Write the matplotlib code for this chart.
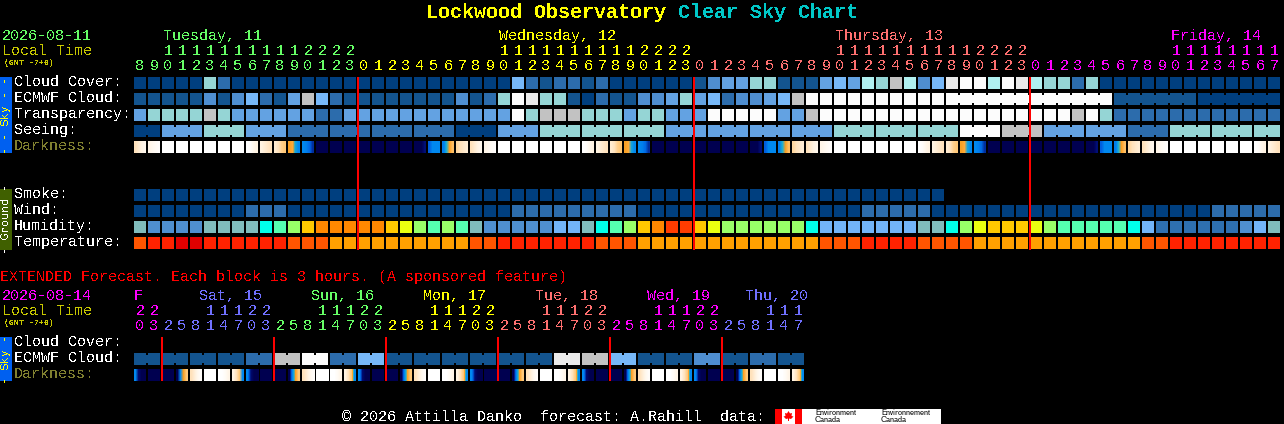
import matplotlib
matplotlib.use("Agg")
import matplotlib.pyplot as plt
from matplotlib.colors import LinearSegmentedColormap
from matplotlib.patches import Rectangle, Polygon
import numpy as np

plt.rcParams["text.hinting"] = "native"
plt.rcParams["text.hinting_factor"] = 1

W, H = 1284, 424
MONO = "Liberation Mono"

# ---------- data ----------
sky_colors = ["#003f7f", "#13548f", "#2c6cac", "#4f8ed0", "#63a2e2", "#77b8f8",
              "#95d5d5", "#b0f0f0", "#c2c2c2", "#eaeaea", "#fcfcfc"]
cloud_cover = [0,0,0,0,0,6,2,0,0,0,0,0,0,0,0,0, 0,0,0,0,0,0,0,0,0,0,0,5,2,1,2,2,1,2,0,0,0,0,0,0,
               1,3,4,4,6,6,1,1,1,4,5,4,7,6,8,7,3,5,9,10,10,7,10,9,7,6,6,2,6,
               0,0,0,0,0,0,0,0,0,0,0,0,0]
ecmwf_cloud = [1,1,1,1,1,3,1,3,5,2,1,4,8,5,2,1, 1,1,1,1,1,1,1,3,1,2,6,10,9,6,6,1,0,2,1,1,3,3,4,6,
               4,5,2,3,3,4,5,8,10,10,10,10,10,10,10,10,10,10,10,10,10,10,10,10,10,10,10,10,10,10,
               1,1,1,1,1,1,0,0,0,0,0,0]
ecmwf_runs = [1]*58 + [12, 6, 6]
transparency = [4,6,6,6,6,8,6,4,4,4,4,4,4,2,2,4, 4,4,4,4,4,4,4,4,4,4,4,10,6,8,8,8,6,6,6,4,6,6,4,4,
                4,10,10,10,10,10,4,4,8,10,10,10,10,10,10,10,10,10,10,10,10,10,10,10,10,10,10,8,10,6,
                2,2,2,2,2,2,2,2,2,2,2,2]
seeing = [0,0,4,4,4,6,6,6,4,4,4,2,2,2,2,2, 2,2,2,2,2,2,2,0,0,0,4,4,4,6,6,6,6,6,6,6,6,6,4,4,
          4,4,4,4,4,4,4,4,4,4,6,6,6,6,6,6,6,6,6,10,10,10,8,8,8,4,4,4,4,4,4,2,2,2,6,6,6,6,6,6,6,6]
seeing_runs = [2] + [3]*26 + [2]
smoke = [0]*58
wind = [0,0,0,0,0,0,0,0,2,2,2,0,0,0,0,0, 0,0,0,0,0,0,0,0,0,0,0,2,2,2,2,2,2,2,2,2,0,0,0,0,
        0,0,0,0,0,0,0,0,0,0,0,0,2,2,2,2,2,0,0,0,0,0,0,0,0,0,0,0,0,0,0,0,0,0,0,0,0,2,2,2,2,2]
humidity_colors = ["#2e70b0", "#4f8fd0", "#72b4f8", "#80bcbc", "#00ffea", "#55ffb0",
                   "#98ff68", "#eaff10", "#ffc800", "#ff8800", "#ff3c00"]
humidity = [3,1,1,1,1,3,3,3,3,4,5,6,8,9,9,9, 9,9,8,7,6,5,6,5,3,1,1,1,1,1,2,2,3,4,5,6,8,9,10,10,
            8,7,6,6,6,6,6,6,4,2,2,2,2,2,2,2,3,3,4,6,7,8,8,8,7,6,5,5,5,5,5,4,2,0,0,0,0,0,0,1,2,3]
temp_colors = ["#e00000", "#ff2200", "#ff5500", "#ffa000"]
temperature = [2,1,1,0,0,1,1,1,1,1,1,2,2,2,3,3, 3,3,3,3,3,3,3,3,2,2,1,1,1,1,1,1,1,2,2,2,3,3,3,3,
               3,3,3,3,3,3,3,3,3,2,2,2,1,1,1,1,2,2,2,2,3,3,3,3,3,3,3,3,3,3,3,3,2,2,1,1,1,1,1,1,1,1]
dark_stops = [(0, "#ffffff"), (.15, "#fff3e2"), (.3, "#ffe2bc"), (.42, "#ffc878"), (.5, "#ffa020"),
              (.56, "#20b0d0"), (.62, "#0088f0"), (.75, "#0060e0"), (.85, "#0030a0"), (.93, "#000a70"),
              (1, "#000050")]
dark_phases = {"W": (0, 0, 0, 0), "N": (1, 1, 1, 1),
               "a": (.3, .22, .15, .1), "b": (.12, .08, .05, .02), "c": (0, .03, .1, .15),
               "d": (.15, .2, .25, .3), "e": (.22, .3, .38, .42), "f": (.5, .48, .58, .62),
               "g": (.62, .65, .72, .85), "h": (1, 1, 1, .92), "i": (.75, .62, .62, .62),
               "j": (.65, .56, .5, .44), "k": (.35, .3, .25, .2),
               "A": (.62, .93, 1, 1), "B": (1, .62, .5, .42), "C": (.3, .2, .1, .03),
               "D": (0, 0, .05, .12), "E": (.15, .3, .42, .62)}
darkness = ("abWWWWWWcdefgNNNNNNNhijk" "abWWWWWWcdefgNNNNNNNhijk"
            "abWWWWWWcdefgNNNNNNNhijk" "abWWWWWWcd")
hours = [8,9,10,11,12,13,14,15,16,17,18,19,20,21,22,23] + list(range(24)) * 2 + list(range(18))
midnights = [16, 40, 64]

ext_ecmwf = [1,1,1,1,1,1,1,1,2,2,8,8,10,10,2,2,5,5,1,1,1,1,1,1,1,1,1,1,1,1,9,9,8,8,5,5,
             1,1,1,1,3,3,1,1,2,2,1,1]
ext_runs = [2]*24
ext_darkness = "ANNBCWDE" * 6
ext_hours = [20,23] + [2,5,8,11,14,17,20,23]*5 + [2,5,8,11,14,17]
ext_midnights = [2, 10, 18, 26, 34, 42]

main_days = [("Tuesday, 11", "#66ff66", 16), ("Wednesday, 12", "#ffff00", 24),
             ("Thursday, 13", "#ff7070", 24), ("Friday, 14", "#ff00ff", 18)]
ext_days = [("F", "#ff00ff", 2, 134), ("Sat, 15", "#7070ff", 8, 199), ("Sun, 16", "#66ff66", 8, 311),
            ("Mon, 17", "#ffff00", 8, 423), ("Tue, 18", "#ff7070", 8, 535),
            ("Wed, 19", "#ff00ff", 8, 647), ("Thu, 20", "#7070ff", 6, 745)]
main_day_x = [163, 499, 835, 1171]

# ---------- helpers ----------
fig = plt.figure(figsize=(W / 100, H / 100), dpi=100, facecolor="black")
bg = fig.add_axes([0, 0, 1, 1])
bg.set_xlim(0, W); bg.set_ylim(H, 0); bg.axis("off")


def txt(x, y, s, color="white", px=15, bold=False, ha="left", rot=0, family=MONO, aa=False, dy=1):
    return bg.text(x, y + dy, s, color=color, fontsize=px * .72, ha=ha, va="center", rotation=rot,
                   fontfamily=family, fontweight="bold" if bold else "normal", antialiased=aa,
                   rotation_mode="anchor" if rot == 0 else "default")


def panel(top, nrows, ncols=82):
    pad = 4 / 16
    ax = fig.add_axes([134 / W, 1 - (top + nrows * 16 - 4) / H, ncols * 14 / W, (nrows * 16 - 4) / H])
    ax.set_xlim(0, ncols); ax.set_ylim(nrows - pad, 0); ax.axis("off")
    ax.patch.set_alpha(0)
    return ax


CW, CH = 12 / 14, 12 / 16


def draw_row(ax, row, values, palette, runs=None):
    cols = np.arange(len(values))
    ax.bar(cols, CH, width=CW, bottom=row, align="edge",
           color=[palette[v] for v in values], linewidth=0, antialiased=False)
    if runs:
        start = 0
        for n in runs:
            for c in range(start, start + n - 1):
                ax.bar(c + CW, 8 / 16, width=1 - CW, bottom=row + 2 / 16, align="edge",
                       color=palette[values[c]], linewidth=0, antialiased=False)
            start += n


dark_cmap = LinearSegmentedColormap.from_list("dark", dark_stops)


def draw_dark(ax, row, codes):
    for c, code in enumerate(codes):
        ax.imshow([dark_phases[code]], extent=(c, c + CW, row + CH, row), cmap=dark_cmap, vmin=0, vmax=1,
                  aspect="auto", interpolation="bilinear", zorder=1)
    ax.set_xlim(0, len(codes))


# ---------- main sky panel ----------
ax1 = panel(77, 5)
draw_row(ax1, 0, cloud_cover, sky_colors)
draw_row(ax1, 1, ecmwf_cloud, sky_colors, ecmwf_runs)
draw_row(ax1, 2, transparency, sky_colors)
draw_row(ax1, 3, seeing, sky_colors, seeing_runs)
draw_dark(ax1, 4, darkness)
ax1.set_ylim(5 - 4 / 16, 0)

ax2 = panel(189, 4)
draw_row(ax2, 0, smoke, sky_colors)
draw_row(ax2, 1, wind, sky_colors)
draw_row(ax2, 2, humidity, humidity_colors)
draw_row(ax2, 3, temperature, temp_colors)
ax2.set_xlim(0, 82)

# midnight lines span both panels through a dedicated axes
axm = fig.add_axes([134 / W, 1 - 250 / H, 82 * 14 / W, (250 - 77) / H])
axm.set_xlim(0, 82); axm.set_ylim(1, 0); axm.axis("off"); axm.patch.set_alpha(0)
axm.vlines(midnights, 0, 1, color="#ff0000", linewidth=2 * .72, antialiased=False)

# ---------- extended panel ----------
ax3 = fig.add_axes([134 / W, 1 - 381 / H, 48 * 14 / W, (381 - 337) / H])
ax3.set_xlim(0, 48); ax3.set_ylim(3 - 4 / 16, 0); ax3.axis("off"); ax3.patch.set_alpha(0)
draw_row(ax3, 1, ext_ecmwf, sky_colors, ext_runs)
draw_dark(ax3, 2, ext_darkness)
ax3.set_ylim(3 - 4 / 16, 0)
ax3.vlines(ext_midnights, 0, 3 - 4 / 16, color="#ff0000", linewidth=2 * .72, antialiased=False, zorder=5)

# ---------- text ----------
txt(426, 11, "Lockwood Observatory", "#ffff00", px=20, bold=True)
txt(678, 11, "Clear Sky Chart", "#00c8c8", px=20, bold=True)

txt(2, 35, "2026-08-11", "#66ff66")
txt(2, 50, "Local Time", "#c8c800")
txt(4, 62, "(GMT -7+0)", "#c8c800", px=8, bold=True)

col = 0
for (name, colr, n), dx in zip(main_days, main_day_x):
    txt(dx, 35, name, colr)
    for _ in range(n):
        h = hours[col]
        cx = 140 + 14 * col
        txt(cx, 65, str(h % 10), colr, ha="center")
        if h >= 10:
            txt(cx, 50, str(h // 10), colr, ha="center")
        col += 1

for y, s, c in [(81, "Cloud Cover:", "white"), (97, "ECMWF Cloud:", "white"), (113, "Transparency:", "white"),
                (129, "Seeing:", "white"), (145, "Darkness:", "#808030"), (193, "Smoke:", "white"),
                (209, "Wind:", "white"), (225, "Humidity:", "white"), (241, "Temperature:", "white"),
                (341, "Cloud Cover:", "white"), (357, "ECMWF Cloud:", "white"), (373, "Darkness:", "#808030")]:
    txt(14, y, s, c)

txt(0, 276, "EXTENDED Forecast. Each block is 3 hours. (A sponsored feature)", "#ff0000")
txt(2, 295, "2026-08-14", "#ff00ff")
txt(2, 310, "Local Time", "#c8c800")
txt(4, 322, "(GMT -7+0)", "#c8c800", px=8, bold=True)

col = 0
for name, colr, n, dx in ext_days:
    txt(dx, 295, name, colr)
    for _ in range(n):
        h = ext_hours[col]
        cx = 140 + 14 * col
        txt(cx, 325, str(h % 10), colr, ha="center")
        if h >= 10:
            txt(cx, 310, str(h // 10), colr, ha="center")
        col += 1

# side bars
bg.add_patch(Rectangle((0, 77), 12, 76, fc="#0060f0", ec="none"))
bg.add_patch(Rectangle((0, 189), 12, 61, fc="#406000", ec="none"))
bg.add_patch(Rectangle((0, 337), 12, 44, fc="#0060f0", ec="none"))
txt(6, 115, "- - Sky - -", "#ffff00", px=11, ha="center", rot=90, family="DejaVu Sans Mono", dy=0)
txt(6, 219.5, "- Ground -", "#ffffff", px=11, ha="center", rot=90, family="DejaVu Sans Mono", dy=0)
txt(6, 359, "- Sky -", "#ffff00", px=11, ha="center", rot=90, family="DejaVu Sans Mono", dy=0)

# footer
txt(342, 416, "\u00a9 2026 Attilla Danko  forecast: A.Rahill  data:", "white")
bg.add_patch(Rectangle((775, 409), 166, 15, fc="white", ec="none"))
bg.add_patch(Rectangle((775, 409), 7, 15, fc="#ff0000", ec="none"))
bg.add_patch(Rectangle((795, 409), 7, 15, fc="#ff0000", ec="none"))
leaf = np.array([[788.5, 411], [790, 413.5], [792, 413], [791.5, 416], [793.5, 416.5], [791, 419],
                 [789, 418.5], [789, 421], [788, 421], [788, 418.5], [786, 419], [783.5, 416.5],
                 [785.5, 416], [785, 413], [787, 413.5]])
bg.add_patch(Polygon(leaf, fc="#ff0000", ec="none"))
for x, a, b in [(815, "Environment", "Canada"), (881, "Environnement", "Canada")]:
    txt(x, 413, a, "black", px=8, family="Liberation Sans", aa=True, dy=0)
    txt(x, 420.5, b, "black", px=8, family="Liberation Sans", aa=True, dy=0)

fig.savefig("out.png", dpi=100, facecolor="black")
